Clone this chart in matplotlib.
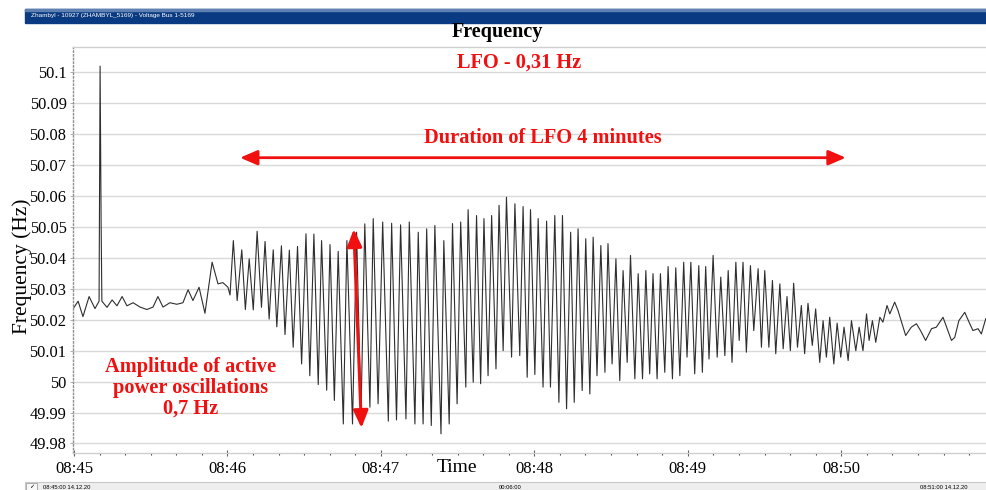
import matplotlib
matplotlib.use("Agg")
import matplotlib.pyplot as plt
from matplotlib.patches import Rectangle
import numpy as np

# seconds after 08:45:00 and frequency (Hz)
pre_t = [0.0, 1.6, 3.5, 5.9, 8.2, 9.8, 10.2, 10.6, 10.9, 12.9, 14.9, 16.8, 18.8, 20.7, 23.1,
         25.8, 28.5, 30.9, 32.8, 34.8, 37.5, 40.2, 42.6, 44.6, 46.5, 48.9, 51.2, 54.0, 56.3,
         58.2, 60.2, 61.0]
pre_f = [50.0240, 50.0260, 50.0210, 50.0275, 50.0236, 50.0260, 50.1020, 50.0510, 50.0260,
         50.0240, 50.0264, 50.0245, 50.0275, 50.0245, 50.0255, 50.0241, 50.0233, 50.0241,
         50.0275, 50.0241, 50.0255, 50.0250, 50.0255, 50.0297, 50.0262, 50.0305, 50.0221,
         50.0386, 50.0316, 50.0320, 50.0305, 50.0280]

# peaks and troughs of the 0.31 Hz swing, alternating
osc_t = [62.3, 63.8, 65.6, 67.0, 68.5, 70.1, 71.6, 73.3, 74.7, 76.3, 77.9, 79.3, 81.1, 82.5,
         84.2, 85.7, 87.4, 89.0, 90.7, 92.2, 93.8, 95.5, 96.8, 98.8, 100.1, 101.8, 103.3,
         105.3, 106.7, 108.9, 110.5, 112.2, 113.7, 115.7, 117.0, 118.9, 120.7, 122.9, 124.2,
         126.1, 127.7, 129.8, 131.1, 133.3, 134.6, 136.5, 137.9, 139.7, 141.1, 143.5, 144.6,
         146.7, 148.0, 149.8, 151.2, 153.2, 154.1, 156.1, 157.4, 159.0, 160.3, 161.9, 163.3,
         165.0, 166.2, 167.8, 169.1, 171.1, 172.4, 174.3, 175.6, 177.2, 178.5, 180.2, 181.5,
         183.4, 184.8, 186.3, 188.0, 189.6, 191.0, 192.6, 194.2, 195.6, 197.1, 198.7, 200.1,
         201.7, 203.0, 204.5, 206.0, 207.6, 208.8, 210.4, 211.9, 213.4, 214.7, 216.3, 217.6,
         219.3, 220.6, 222.3, 223.6, 225.1, 226.4, 228.0, 229.3, 231.0, 232.3, 234.0, 235.3,
         236.9, 238.4, 239.7, 241.2, 242.7, 244.3, 245.7, 247.0, 248.3, 249.9, 251.5, 252.9,
         254.5, 255.8, 257.3, 258.8, 260.1, 261.6, 262.9, 264.5, 265.8, 267.5, 268.8, 270.1,
         271.7, 273.1, 274.4, 276.0, 277.3, 278.8, 280.1, 281.4, 282.9, 284.4, 285.7, 287.0,
         288.7, 290.0, 291.6, 292.9, 294.2, 295.5, 297.1, 298.4, 299.8, 301.1, 302.7, 304.0,
         305.7, 307.0, 308.5, 309.9]
osc_f = [50.0456, 50.0262, 50.0426, 50.0233, 50.0397, 50.0232, 50.0486, 50.0240, 50.0453,
         50.0202, 50.0426, 50.0177, 50.0439, 50.0152, 50.0425, 50.0111, 50.0437, 50.0057,
         50.0478, 50.0019, 50.0477, 49.9990, 50.0456, 49.9972, 50.0443, 49.9939, 50.0421,
         49.9863, 50.0456, 49.9863, 50.0483, 49.9890, 50.0510, 49.9917, 50.0527, 49.9928,
         50.0516, 49.9872, 50.0512, 49.9876, 50.0507, 49.9879, 50.0516, 49.9863, 50.0483,
         49.9863, 50.0494, 49.9858, 50.0505, 49.9831, 50.0456, 49.9863, 50.0511, 49.9928,
         50.0516, 49.9982, 50.0556, 49.9998, 50.0537, 49.9993, 50.0527, 50.0019, 50.0537,
         50.0041, 50.0570, 50.0100, 50.0596, 50.0079, 50.0575, 50.0084, 50.0566, 50.0014,
         50.0556, 50.0023, 50.0527, 49.9982, 50.0519, 49.9982, 50.0537, 49.9933, 50.0537,
         49.9912, 50.0483, 49.9933, 50.0494, 49.9971, 50.0462, 49.9960, 50.0467, 50.0019,
         50.0440, 50.0030, 50.0446, 50.0057, 50.0397, 50.0003, 50.0359, 50.0062, 50.0408,
         50.0009, 50.0349, 50.0009, 50.0359, 50.0025, 50.0349, 50.0009, 50.0349, 50.0030,
         50.0372, 50.0009, 50.0368, 50.0019, 50.0386, 50.0079, 50.0386, 50.0025, 50.0375,
         50.0030, 50.0372, 50.0073, 50.0408, 50.0079, 50.0338, 50.0084, 50.0359, 50.0062,
         50.0386, 50.0133, 50.0386, 50.0095, 50.0375, 50.0165, 50.0365, 50.0111, 50.0359,
         50.0111, 50.0327, 50.0090, 50.0316, 50.0106, 50.0275, 50.0100, 50.0318, 50.0111,
         50.0246, 50.0090, 50.0253, 50.0117, 50.0235, 50.0062, 50.0197, 50.0079, 50.0208,
         50.0057, 50.0189, 50.0079, 50.0176, 50.0068, 50.0197, 50.0100, 50.0176, 50.0100,
         50.0219]

tail_t = [310.9, 312.2, 313.5, 315.1, 316.3, 317.9, 319.0, 320.9, 322.2, 325.2, 327.4, 329.4,
          331.0, 333.0, 335.3, 337.2, 339.8, 343.1, 344.4, 346.0, 348.3, 350.0, 351.5, 353.5,
          354.8, 356.5]
tail_f = [50.0133, 50.0197, 50.0127, 50.0208, 50.0192, 50.0246, 50.0219, 50.0257, 50.0230,
          50.0149, 50.0176, 50.0187, 50.0165, 50.0133, 50.0171, 50.0176, 50.0208, 50.0133,
          50.0143, 50.0197, 50.0224, 50.0192, 50.0165, 50.0171, 50.0154, 50.0203]

y_ticks = [50.1, 50.09, 50.08, 50.07, 50.06, 50.05, 50.04, 50.03, 50.02, 50.01, 50.0, 49.99, 49.98]
y_labels = ["50.1", "50.09", "50.08", "50.07", "50.06", "50.05", "50.04", "50.03", "50.02",
            "50.01", "50", "49.99", "49.98"]
x_ticks = [0, 60, 120, 180, 240, 300]
x_labels = ["08:45", "08:46", "08:47", "08:48", "08:49", "08:50"]

plt.rcParams['font.family'] = ['Liberation Serif', 'DejaVu Serif']
RED = '#f01010'

fig = plt.figure(figsize=(9.87, 4.90), dpi=100)
W, H = 987.0, 490.0

# window title bar and status bar
fig.patches.append(Rectangle((25 / W, 1 - 22.7 / H), 1, 13.7 / H, transform=fig.transFigure,
                             color='#0a3b82', zorder=0))
fig.patches.append(Rectangle((25 / W, 1 - 11 / H), 1, 2 / H, transform=fig.transFigure,
                             color='#5f80b2', zorder=0))
fig.text(31 / W, 1 - 16 / H, "Zhambyl - 10927 (ZHAMBYL_5169) - Voltage Bus 1-5169",
         color='white', fontsize=4.6, family='Liberation Sans', va='center')
fig.patches.append(Rectangle((25 / W, 0), 1, 8.3 / H, transform=fig.transFigure,
                             facecolor='#eeeeee', edgecolor='#c8c8c8', lw=0.8, zorder=0))
fig.patches.append(Rectangle((26 / W, 0.001), 11 / W, 7 / H, transform=fig.transFigure,
                             facecolor='#f8f8f8', edgecolor='#a0a0a0', lw=0.6, zorder=1))
fig.text(31.5 / W, 3.5 / H, "\u2713", fontsize=4.5, family='DejaVu Sans', ha='center', va='center')
fig.text(43 / W, 3 / H, "08:45:00 14.12.20", fontsize=4.2, family='Liberation Sans', va='center')
fig.text(510 / W, 3 / H, "00:06:00", fontsize=4.2, family='Liberation Sans', va='center', ha='center')
fig.text(968 / W, 3 / H, "08:51:00 14.12.20", fontsize=4.2, family='Liberation Sans', va='center', ha='right')

ax = fig.add_axes([73.5 / W, (H - 452.7) / H, (W - 73.5) / W, (452.7 - 47.3) / H])
t = np.concatenate([pre_t, osc_t, tail_t])
f = np.concatenate([pre_f, osc_f, tail_f])
ax.plot(t, f, color='#2e2e2e', lw=0.8)

ax.set_xlim(-0.2, 357.0)
ax.set_ylim(49.977, 50.1081)
ax.set_yticks(y_ticks)
ax.set_yticklabels(y_labels, fontsize=11.8)
ax.set_xticks(x_ticks)
ax.set_xticklabels(x_labels, fontsize=12)
ax.set_xticks(np.arange(0, 357, 10), minor=True)
ax.yaxis.grid(True, color='#d9d9d9', lw=1)
ax.set_axisbelow(True)
ax.tick_params(axis='x', which='major', direction='inout', length=4, width=0.8, color='#606060', pad=4)
ax.tick_params(axis='x', which='minor', direction='out', length=1.5, width=0.8, color='#404040')
ax.tick_params(axis='y', direction='out', length=2, width=0.6, color='#a0a0a0', pad=3)
for s in ['top', 'bottom']:
    ax.spines[s].set_color('#cfcfcf')
    ax.spines[s].set_linewidth(1)
ax.spines['left'].set_color('#909090')
ax.spines['left'].set_linestyle(':')
ax.spines['left'].set_linewidth(1)
ax.spines['right'].set_visible(False)

fig.text(497 / W, 1 - 32 / H, "Frequency", fontsize=14.5, fontweight='bold', ha='center', va='center')
fig.text(22 / W, 1 - 266 / H, "Frequency (Hz)", fontsize=15.5, rotation=90, ha='center', va='center')
fig.text(457 / W, 1 - 467 / H, "Time", fontsize=14, ha='center', va='center')

# annotations
ax.text(174.1, 50.1032, "LFO - 0,31 Hz", color=RED, fontsize=14.7, fontweight='bold',
        ha='center', va='center')
ax.text(183.2, 50.0787, "Duration of LFO 4 minutes", color=RED, fontsize=14.7, fontweight='bold',
        ha='center', va='center')
ax.annotate("", xy=(301.8, 50.0724), xytext=(64.9, 50.0724),
            arrowprops=dict(arrowstyle='<|-|>,head_length=0.7,head_width=0.3', color=RED, lw=2,
                            mutation_scale=15, shrinkA=0, shrinkB=0))
ax.annotate("", xy=(112.4, 49.9850), xytext=(109.4, 50.0493),
            arrowprops=dict(arrowstyle='<|-|>,head_length=0.7,head_width=0.3', color=RED, lw=2.2,
                            mutation_scale=15, shrinkA=0, shrinkB=0))
ax.text(45.5, 49.998, "Amplitude of active\npower oscillations\n0,7 Hz", color=RED, fontsize=14.7,
        fontweight='bold', ha='center', va='center', linespacing=1.05)

fig.savefig("out.png", dpi=100)
